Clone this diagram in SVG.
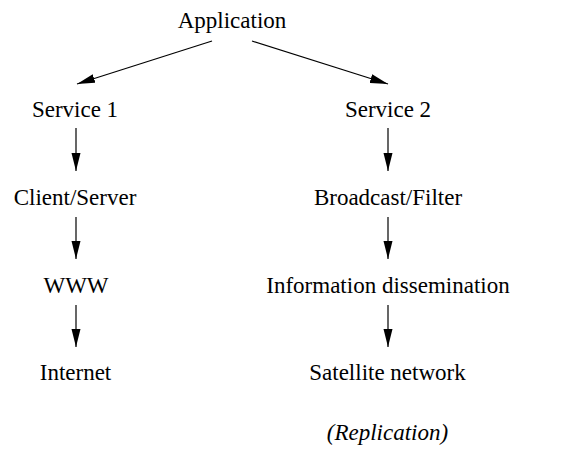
<svg xmlns="http://www.w3.org/2000/svg" width="588" height="453" viewBox="0 0 588 453">
<defs>
<marker id="ah" markerWidth="18" markerHeight="10" refX="18" refY="5" orient="auto" markerUnits="userSpaceOnUse">
<path d="M0,0.5 L18,5 L0,9.5 Z" fill="#000"/>
</marker>
<style>
text{font-family:"Liberation Serif","Times New Roman",serif;font-size:23px;fill:#000;text-anchor:middle}
.it{font-style:italic}
line{stroke:#000;stroke-width:1.2;marker-end:url(#ah)}
</style>
</defs>
<rect width="588" height="453" fill="#fff"/>
<g id="connectors">
<line x1="212" y1="41" x2="77" y2="84"/>
<line x1="252" y1="41" x2="388" y2="84"/>
<line x1="76" y1="128" x2="76" y2="171"/>
<line x1="76" y1="217" x2="76" y2="259"/>
<line x1="76" y1="305" x2="76" y2="347"/>
<line x1="388" y1="128" x2="388" y2="171"/>
<line x1="388" y1="217" x2="388" y2="259"/>
<line x1="388" y1="305" x2="388" y2="347"/>
</g>
<g id="application"><text x="232" y="28">Application</text></g>
<g id="service1"><text x="75" y="117">Service 1</text></g>
<g id="service2"><text x="388" y="117">Service 2</text></g>
<g id="clientserver"><text x="75" y="205">Client/Server</text></g>
<g id="broadcastfilter"><text x="388" y="205">Broadcast/Filter</text></g>
<g id="www"><text x="76" y="293">WWW</text></g>
<g id="infodiss"><text x="388" y="293">Information dissemination</text></g>
<g id="internet"><text x="75.5" y="380">Internet</text></g>
<g id="satellite"><text x="387.5" y="380">Satellite network</text></g>
<g id="replication"><text class="it" x="387.5" y="440">(Replication)</text></g>
</svg>
